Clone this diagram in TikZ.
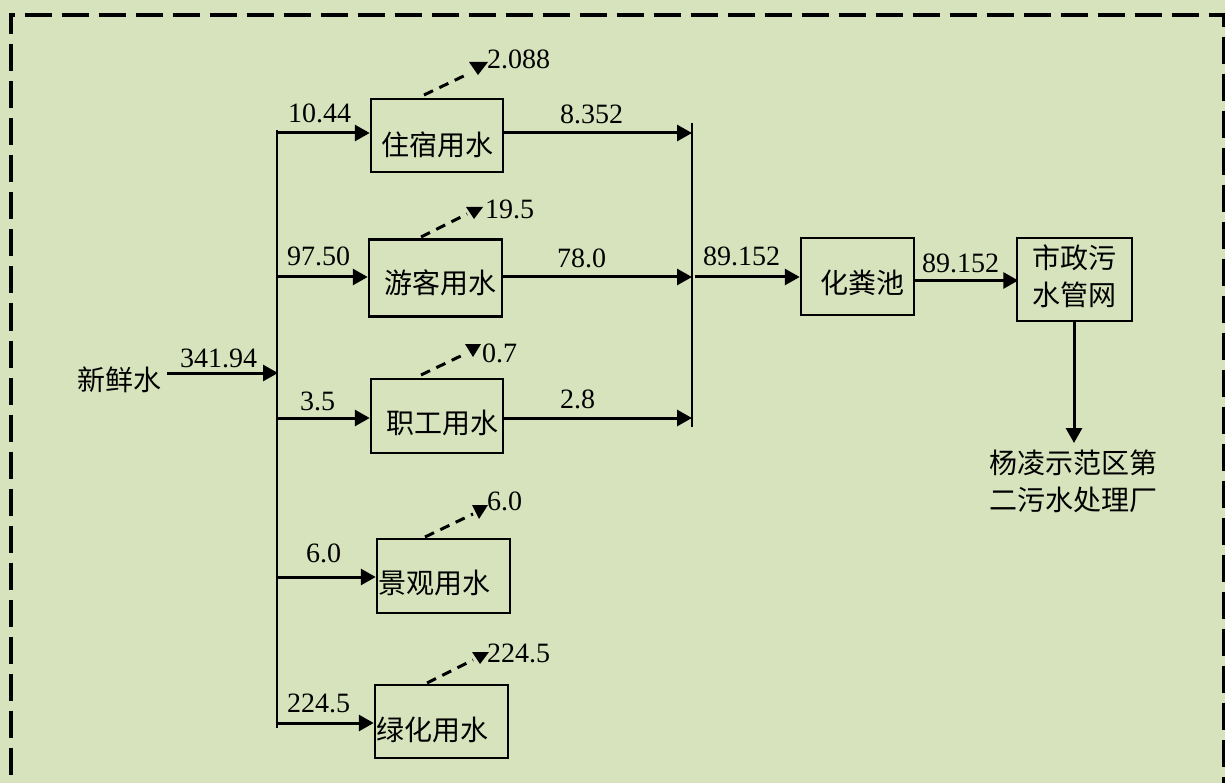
\documentclass[tikz,border=0pt]{standalone}
\usepackage{fontspec}
\setmainfont{Liberation Serif}
\newfontfamily\cjk{Noto Sans CJK SC}
\usetikzlibrary{arrows.meta,calc}
\definecolor{bg}{RGB}{215,227,188}
\newcommand\fs{\fontsize{28}{37}\selectfont}
\begin{document}
\begin{tikzpicture}[x=1pt,y=-1pt,
  font=\fs,
  box/.style={draw, line width=2.5pt, inner sep=0pt},
  num/.style={anchor=base west, inner sep=0pt, font=\fs},
  lbl/.style={inner sep=0pt, font=\cjk\fs, align=center},
  arr/.style={line width=3pt, -{Triangle[length=15pt,width=16pt]}},
  bus/.style={line width=2.5pt},
  loss/.style={line width=3pt, dash pattern=on 10pt off 7pt},
  tipfill/.style={fill=black},
  frame/.style={line width=3.2pt, dash pattern=on 27pt off 10pt}]
\useasboundingbox (0,0) rectangle (1225,783);
\fill[bg] (0,0) rectangle (1225,783);
\begin{scope}
\clip (0,0) rectangle (1225,783);
\draw[frame, dash phase=22pt] (9.5,15) -- (1223.5,15) -- (1223.5,800);
\draw[frame, dash phase=6pt] (11,13.5) -- (11,800);
\end{scope}

% boxes
\node[box, minimum width=132pt, minimum height=73pt] (b1) at (437,135.5) {};
\node[box, minimum width=133pt, minimum height=77pt] (b2) at (435.5,278) {};
\node[box, minimum width=132pt, minimum height=74pt] (b3) at (437,416) {};
\node[box, minimum width=133pt, minimum height=74pt] (b4) at (443.5,576) {};
\node[box, minimum width=133pt, minimum height=73pt] (b5) at (441.5,721.5) {};
\node[box, minimum width=113pt, minimum height=77pt] (c) at (857.5,276.5) {};
\node[box, minimum width=115pt, minimum height=83pt] (m) at (1074.5,279.5) {};

% box texts
\node[lbl] (t1) at (437,145) {住宿用水};
\node[lbl] (t2) at (440,283) {游客用水};
\node[lbl] (t3) at (442,423) {职工用水};
\node[lbl] (t4) at (434,583) {景观用水};
\node[lbl] (t5) at (432,730) {绿化用水};
\node[lbl] (tc) at (862,283) {化粪池};
\node[lbl] (tm) at (1074,276.5) {市政污\\水管网};
\node[lbl] (src) at (119,380) {新鲜水};
\node[lbl] (dst) at (1073,481.5) {杨凌示范区第\\二污水处理厂};

% bus coordinates
\coordinate (vtop) at (277,130);
\coordinate (vbot) at (277,728);
\coordinate (j0) at (278,373);
\coordinate (j1) at (277,133);
\coordinate (j2) at (277,277);
\coordinate (j3) at (277,418);
\coordinate (j4) at (277,577);
\coordinate (j5) at (277,723);
\coordinate (ktop) at (692,123);
\coordinate (kbot) at (692,427);
\coordinate (kout) at (695,277);
\coordinate (sink) at (1074,443);

% main bus
\draw[bus] (vtop) -- (vbot);
\draw[bus] (ktop) -- (kbot);

% input
\draw[arr] (src.east |- j0) ++(6,0) coordinate (s0) (s0) -- (j0);

% branches
\draw[arr] (j1) -- (j1 -| b1.west);
\draw[arr] (j2) -- (j2 -| b2.west);
\draw[arr] (j3) -- (j3 -| b3.west);
\draw[arr] (j4) -- (j4 -| b4.west);
\draw[arr] (j5) -- (j5 -| b5.west);

% outputs to collector
\draw[arr] (j1 -| b1.east) -- (j1 -| ktop);
\draw[arr] (j2 -| b2.east) -- (j2 -| ktop);
\draw[arr] (j3 -| b3.east) -- (j3 -| ktop);

\draw[arr] (kout) -- (kout -| c.west);
\draw[arr] ($(c.east)+(0,4)$) -- ($(c.east)+(103,4)$);
\draw[arr] (m.south -| sink) -- (sink);

% loss lines
\draw[loss] (424,95) -- (470,73);
\fill[tipfill] (469,62) -- (488,62) -- (478,75) -- cycle;
\draw[loss] (421,237) -- (467,214);
\fill[tipfill] (466,207) -- (483,207) -- (474,219) -- cycle;
\draw[loss] (421,375) -- (467,353);
\fill[tipfill] (465,344) -- (481,344) -- (473,357) -- cycle;
\draw[loss] (425,537) -- (473,514);
\fill[tipfill] (472,505) -- (488,505) -- (479,519) -- cycle;
\draw[loss] (427,683) -- (473,660);
\fill[tipfill] (472,652) -- (489,652) -- (480,664) -- cycle;

% numbers
\node[num] (n1) at (288,123) {10.44};
\node[num] (n2) at (560,124) {8.352};
\node[num] (n3) at (487,69) {2.088};
\node[num] (n4) at (287,266) {97.50};
\node[num] (n5) at (557,268) {78.0};
\node[num] (n6) at (485,219) {19.5};
\node[num] (n7) at (300,410) {3.5};
\node[num] (n8) at (560,408) {2.8};
\node[num] (n9) at (482,362) {0.7};
\node[num] (n10) at (306,562) {6.0};
\node[num] (n11) at (487,510) {6.0};
\node[num] (n12) at (287,712) {224.5};
\node[num] (n13) at (487,662) {224.5};
\node[num] (n14) at (180,367) {341.94};
\node[num] (n15) at (703,266) {89.152};
\node[num] (n16) at (922,273) {89.152};
\end{tikzpicture}
\end{document}
